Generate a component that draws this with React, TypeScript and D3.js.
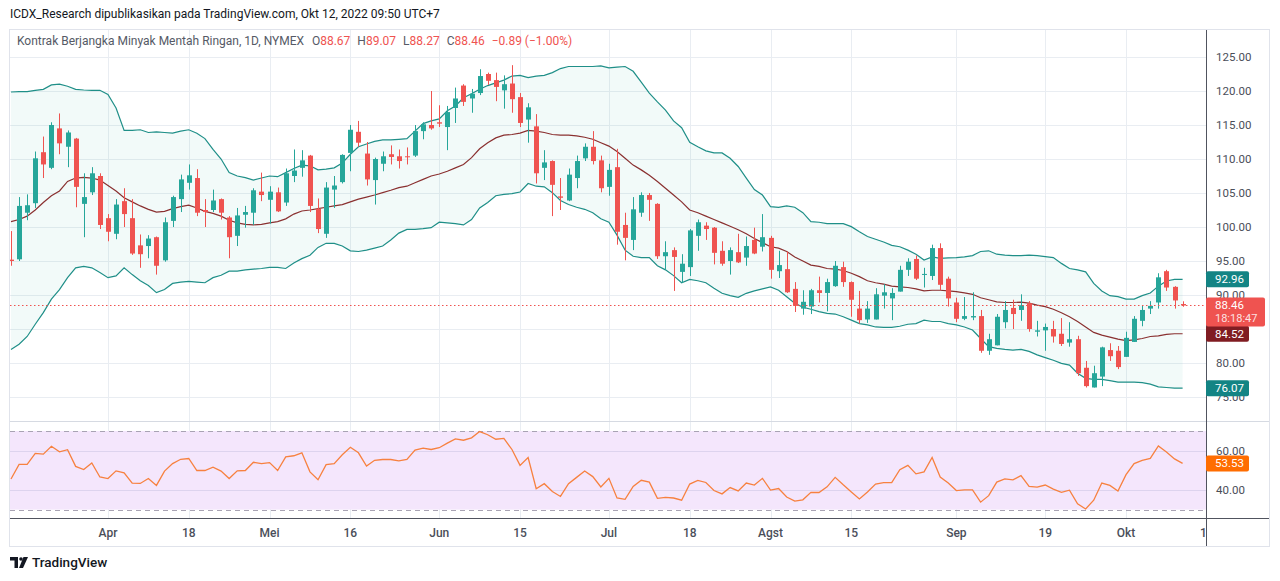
import React, { useRef, useEffect } from 'react'
import * as d3 from 'd3'

// daily candles, Mar 16 - Oct 12 2022
const opens = [
  95.2, 95.25, 102.1, 103.5, 111.0, 108.7, 114.5, 111.8, 113.0, 103.4,
  105.1, 107.5, 101.3, 99.0, 103.8, 101.3, 97.3, 97.2, 98.5, 95.1,
  100.9, 104.1, 106.5, 107.2, 102.5, 102.5, 104.1, 101.4, 98.7, 101.8,
  102.1, 105.2, 104.0, 105.1, 103.6, 107.5, 108.7, 110.5, 102.7, 99.0,
  105.5, 106.6, 110.9, 114.0, 110.8, 106.9, 109.3, 110.7, 110.4, 110.4,
  110.5, 114.1, 115.0, 115.4, 114.7, 117.5, 120.8, 118.9, 119.7, 122.5,
  121.6, 120.1, 121.1, 119.1, 115.8, 114.8, 108.7, 109.7, 104.5, 103.9,
  107.2, 110.1, 111.8, 109.8, 105.9, 108.8, 100.3, 98.1, 102.1, 104.7,
  103.4, 95.7, 96.6, 93.4, 94.1, 98.7, 100.2, 99.9, 96.5, 95.0,
  96.3, 95.5, 98.1, 97.1, 98.4, 93.5, 93.8, 90.9, 88.0, 88.3,
  90.7, 90.3, 91.3, 94.1, 91.9, 88.0, 86.4, 86.4, 89.9, 89.5,
  90.5, 93.7, 95.3, 93.0, 92.8, 96.9, 92.4, 88.9, 86.5, 86.7,
  86.9, 81.8, 82.6, 86.0, 88.1, 87.8, 88.8, 84.6, 84.8, 85.0,
  84.3, 83.0, 83.5, 79.3, 76.4, 78.0, 81.9, 81.8, 80.9, 83.1,
  86.2, 88.0, 88.9, 93.5, 91.2, 88.67,
]
const highs = [
  99.4, 104.4, 104.8, 111.1, 113.3, 115.4, 116.7, 114.2, 113.1, 107.9,
  108.8, 107.9, 101.9, 104.1, 105.7, 104.1, 98.9, 98.8, 98.6, 101.4,
  104.6, 107.7, 109.2, 108.5, 104.1, 105.5, 104.2, 101.6, 102.8, 103.1,
  105.7, 108.0, 106.0, 105.8, 108.6, 111.4, 111.3, 110.6, 104.2, 106.6,
  107.5, 110.7, 115.0, 115.6, 112.5, 110.2, 111.1, 112.0, 111.4, 111.7,
  115.0, 115.4, 120.0, 117.9, 117.8, 120.5, 121.0, 120.3, 123.2, 122.7,
  122.7, 122.3, 123.8, 119.7, 118.2, 116.6, 111.3, 109.8, 107.2, 108.6,
  110.5, 112.3, 114.1, 110.5, 109.3, 111.5, 102.1, 104.4, 105.1, 105.0,
  103.5, 97.9, 97.0, 96.0, 99.7, 101.1, 100.7, 100.0, 97.9, 97.0,
  99.0, 98.6, 99.9, 101.9, 98.7, 96.5, 96.4, 91.9, 90.7, 90.9,
  92.7, 92.4, 95.0, 94.9, 92.0, 90.6, 89.1, 91.0, 91.6, 91.0,
  94.3, 95.4, 95.8, 94.0, 97.4, 97.6, 92.7, 89.6, 89.7, 90.4,
  87.8, 84.3, 87.2, 89.1, 89.3, 90.1, 89.1, 86.2, 85.8, 86.2,
  86.6, 86.0, 84.0, 80.3, 79.6, 82.4, 82.9, 82.5, 84.6, 86.9,
  88.4, 89.1, 93.2, 93.7, 91.3, 89.07,
]
const lows = [
  94.3, 95.0, 101.0, 102.8, 107.2, 108.5, 110.7, 108.8, 102.9, 98.5,
  104.7, 99.7, 97.9, 98.2, 100.0, 95.9, 94.0, 95.4, 93.0, 94.9,
  100.0, 102.2, 105.5, 101.6, 100.0, 102.2, 101.1, 95.4, 97.2, 99.9,
  100.3, 103.8, 100.5, 102.2, 103.1, 106.6, 107.4, 102.2, 99.1, 98.4,
  102.8, 106.4, 108.2, 111.8, 106.1, 103.3, 108.2, 109.2, 108.6, 109.2,
  110.3, 112.9, 114.3, 114.7, 111.3, 115.3, 117.8, 116.8, 119.4, 120.9,
  118.5, 117.4, 116.8, 114.7, 112.4, 106.4, 106.9, 101.6, 102.5, 103.8,
  105.7, 109.7, 109.2, 105.1, 104.6, 97.4, 95.1, 96.6, 101.5, 100.9,
  95.3, 93.7, 90.6, 91.8, 92.8, 96.5, 98.1, 94.5, 94.3, 93.0,
  94.7, 94.3, 96.0, 96.4, 92.4, 92.5, 90.3, 87.5, 87.1, 87.2,
  88.9, 87.6, 91.2, 91.2, 86.8, 85.8, 85.9, 86.4, 88.0, 86.3,
  90.5, 92.8, 92.2, 91.1, 92.2, 90.7, 88.3, 86.0, 86.3, 86.3,
  81.5, 81.2, 82.6, 85.1, 85.0, 86.2, 84.6, 83.9, 81.8, 83.0,
  82.5, 82.4, 78.1, 76.4, 76.4, 76.6, 80.3, 79.1, 80.9, 83.1,
  85.4, 87.2, 88.0, 90.6, 88.0, 88.27,
]
const closes = [
  95.0, 103.1, 103.2, 110.1, 109.2, 115.0, 112.3, 113.9, 105.9, 104.4,
  107.9, 100.3, 99.3, 103.3, 101.9, 96.1, 96.0, 98.3, 94.3, 100.7,
  104.4, 107.0, 107.6, 102.1, 102.2, 103.9, 102.1, 98.5, 101.7, 102.2,
  105.4, 104.7, 105.2, 102.3, 107.9, 108.3, 109.8, 103.1, 99.7, 105.8,
  106.1, 110.6, 114.3, 112.4, 107.0, 110.0, 110.4, 110.3, 109.7, 110.3,
  114.1, 115.1, 114.5, 115.2, 116.9, 118.9, 118.4, 119.6, 122.2, 121.5,
  120.6, 121.0, 118.8, 115.3, 117.6, 107.9, 109.5, 106.2, 104.3, 107.7,
  109.7, 111.8, 109.7, 105.7, 108.4, 99.3, 98.4, 102.6, 104.7, 104.0,
  95.7, 96.3, 95.6, 94.6, 99.5, 100.7, 99.7, 96.2, 94.6, 96.6,
  94.8, 97.2, 96.1, 98.5, 93.7, 94.4, 90.4, 88.4, 89.0, 90.7,
  90.3, 91.9, 94.3, 91.9, 89.3, 86.3, 88.0, 90.1, 90.4, 90.3,
  93.7, 94.9, 92.4, 93.1, 96.9, 91.5, 89.5, 86.5, 86.9, 86.9,
  81.8, 83.5, 86.8, 87.8, 87.2, 88.5, 85.0, 84.8, 85.3, 83.9,
  82.8, 83.5, 78.5, 76.6, 78.5, 82.3, 81.0, 79.4, 83.7, 86.5,
  87.8, 88.4, 92.6, 91.1, 89.2, 88.46,
]

// Bollinger bands (20, 2) as drawn
const bbUpper = [
  119.85, 119.9, 119.9, 120.1, 120.25, 120.9, 121.0, 120.7, 120.25, 120.15,
  120.1, 120.1, 119.5, 117.5, 114.2, 114.2, 114.3, 113.9, 114.0, 113.9,
  113.8, 114.1, 114.3, 113.8, 113.0, 111.4, 110.0, 108.0, 107.5, 107.25,
  106.9, 107.2, 107.5, 107.4, 108.0, 108.6, 109.1, 109.0, 108.4, 108.5,
  108.7, 109.4, 110.7, 111.8, 112.2, 112.6, 112.8, 112.8, 112.9, 113.0,
  114.1, 115.2, 115.6, 115.9, 117.1, 117.8, 119.0, 119.6, 120.25, 120.8,
  121.2, 121.6, 122.2, 122.3, 121.96, 122.2, 122.3, 122.7, 123.3, 123.6,
  123.6, 123.6, 123.6, 123.7, 123.4, 123.5, 123.6, 122.9, 121.3, 119.7,
  118.4, 117.2, 115.6, 114.6, 112.45, 111.8, 111.2, 110.9, 110.9, 110.1,
  108.9, 107.2, 105.5, 104.7, 103.0, 102.9, 103.1, 102.9, 102.1, 100.8,
  100.7, 100.5, 100.5, 100.5, 100.05, 99.3, 98.6, 98.2, 97.8, 97.3,
  97.1, 96.6, 96.0, 95.15, 95.6, 95.4, 95.45, 95.5, 95.6, 95.8,
  96.4, 96.5, 96.0, 95.85, 95.8, 95.8, 95.85, 95.8, 95.65, 95.5,
  94.65, 93.9, 93.7, 93.4, 91.7, 90.6, 89.9, 89.75, 89.4, 89.4,
  89.9, 90.3, 91.3, 92.06, 92.3, 92.3,
]
const bbBasis = [
  100.8, 101.1, 101.6, 102.5, 103.6, 104.6, 105.3, 106.7, 107.2, 107.3,
  107.2, 106.9, 106.1, 105.3, 104.3, 103.7, 103.1, 102.6, 102.2, 102.3,
  102.7, 103.0, 103.2, 102.8, 102.3, 102.0, 101.6, 101.0, 100.6, 100.4,
  100.3, 100.4, 100.6, 100.8, 101.2, 101.9, 102.35, 102.5, 102.7, 102.9,
  103.1, 103.3, 103.7, 104.1, 104.4, 104.7, 105.05, 105.4, 105.8, 106.0,
  106.5, 107.0, 107.5, 107.8, 108.2, 108.7, 109.2, 110.2, 111.5, 112.4,
  113.1, 113.5, 113.6, 113.8, 114.2, 114.1, 113.9, 113.6, 113.5, 113.5,
  113.4, 113.2, 112.9, 112.4, 111.9, 111.1, 110.1, 109.1, 108.4, 107.6,
  106.7, 105.7, 104.7, 103.7, 102.5, 102.1, 101.6, 101.1, 100.6, 100.1,
  99.6, 99.0, 98.3, 97.7, 97.1, 96.9, 96.4, 95.6, 95.0, 94.4,
  94.2, 93.9, 93.8, 93.6, 93.2, 92.7, 92.1, 91.8, 91.6, 91.3,
  91.2, 91.1, 90.9, 90.6, 90.7, 90.7, 90.6, 90.5, 90.3, 90.1,
  89.6, 89.3, 89.0, 88.9, 88.9, 88.95, 88.8, 88.5, 88.3, 87.9,
  87.4, 86.8, 86.1, 85.3, 84.5, 84.1, 83.8, 83.5, 83.3, 83.4,
  83.6, 83.9, 84.0, 84.2, 84.3, 84.3,
]
const bbLower = [
  82.0, 82.75, 83.9, 85.7, 87.4, 89.4, 90.8, 92.55, 94.0, 94.2,
  94.0, 93.3, 92.55, 92.8, 94.0, 93.0, 92.1, 91.4, 90.35, 90.8,
  91.7, 91.9, 92.0, 91.9, 91.8, 92.55, 92.9, 93.5, 93.5, 93.7,
  93.8, 93.9, 94.05, 94.05, 93.9, 94.7, 95.35, 95.85, 97.0, 97.6,
  97.6, 97.2, 96.5, 96.4, 96.6, 96.9, 97.2, 98.1, 99.1, 99.65,
  99.65, 99.75, 99.9, 100.7, 100.6, 100.5, 100.3, 101.1, 102.8, 103.6,
  104.6, 104.8, 104.9, 105.15, 106.4, 106.0, 105.9, 105.05, 103.9, 103.3,
  102.9, 102.6, 102.1, 101.2, 100.7, 98.8, 96.6, 95.7, 95.5, 95.5,
  94.3, 93.7, 92.85, 91.8, 92.3, 92.1, 91.8, 91.0, 90.25, 89.9,
  89.65, 90.25, 90.6, 90.9, 91.2, 90.7, 89.75, 88.8, 88.2, 87.9,
  87.55, 87.3, 87.2, 86.8, 86.3, 85.8, 85.6, 85.3, 85.25, 85.25,
  85.4, 85.7, 85.8, 86.3, 86.1, 86.1, 85.8, 85.6, 85.3, 84.85,
  83.6, 82.4, 82.15, 82.0, 81.9, 82.0, 81.7, 81.2, 80.8, 80.4,
  79.95, 79.7, 78.5, 77.75, 77.6, 77.6, 77.4, 77.2, 77.2, 77.2,
  77.1, 76.9, 76.5, 76.4, 76.3, 76.3,
]

// RSI (14) as drawn
const rsi = [
  45.6, 53.0, 53.0, 58.6, 58.2, 62.2, 59.4, 60.5, 52.0, 50.4,
  53.7, 46.6, 45.8, 49.7, 48.7, 43.5, 43.3, 45.8, 42.3, 49.6,
  53.4, 55.6, 56.0, 49.9, 49.9, 51.6, 49.6, 45.8, 49.7, 49.9,
  54.1, 53.4, 53.9, 49.9, 56.8, 57.4, 58.9, 49.2, 45.2, 52.9,
  53.4, 57.9, 61.7, 58.9, 52.2, 55.1, 55.5, 55.5, 54.8, 55.5,
  60.3, 61.3, 60.6, 61.5, 63.8, 66.0, 65.3, 66.5, 69.7, 68.1,
  65.8, 66.2, 60.6, 52.5, 56.5, 40.6, 43.2, 39.2, 36.7, 43.2,
  46.4, 49.6, 46.8, 41.5, 45.9, 35.9, 35.2, 41.8, 44.9, 44.0,
  35.7, 36.2, 35.9, 34.8, 43.0, 44.9, 43.8, 39.7, 38.0, 41.2,
  39.5, 43.5, 42.5, 45.9, 39.9, 40.7, 36.4, 34.3, 35.0, 38.8,
  38.7, 41.6, 46.4, 42.6, 39.0, 35.4, 39.0, 43.0, 43.7, 43.7,
  50.3, 52.5, 48.2, 49.2, 56.5, 46.6, 43.5, 39.7, 40.0, 40.0,
  33.8, 37.1, 44.0, 45.6, 45.1, 47.3, 41.8, 41.4, 42.5, 40.4,
  38.8, 39.9, 32.9, 30.3, 34.8, 43.5, 42.3, 39.5, 47.8, 53.4,
  55.1, 56.1, 62.4, 59.3, 55.8, 53.5,
]

const dateTicks = [
  { index: 12, label: 'Apr' },
  { index: 22, label: '18' },
  { index: 32, label: 'Mei' },
  { index: 42, label: '16' },
  { index: 53, label: 'Jun' },
  { index: 63, label: '15' },
  { index: 74, label: 'Jul' },
  { index: 84, label: '18' },
  { index: 94, label: 'Agst' },
  { index: 104, label: '15' },
  { index: 117, label: 'Sep' },
  { index: 128, label: '19' },
  { index: 138, label: 'Okt' },
  { index: 148, label: '17' },
]
const priceTicks = [125, 120, 115, 110, 105, 100, 95, 90, 85, 80, 75]
const rsiTicks = [60, 40]
const rsiBands = [70, 30]

const title =
  'ICDX_Research dipublikasikan pada TradingView.com, Okt 12, 2022 09:50 UTC+7'
const symbolName = 'Kontrak Berjangka Minyak Mentah Ringan, 1D, NYMEX'
const ohlcLegend = [
  { key: 'O', value: '88.67' },
  { key: 'H', value: '89.07' },
  { key: 'L', value: '88.27' },
  { key: 'C', value: '88.46' },
]
const changeText = '\u22120.89 (\u22121.00%)'
const countdown = '18:18:47'
const lastLabels = { upper: '92.96', basis: '84.52', lower: '76.07', close: '88.46', rsi: '53.53' }

const UP = '#26a69a'
const DOWN = '#ef5350'
const FONT = 'Roboto, "Noto Sans", sans-serif'

const CandleChart: React.FC<{ width: number; height: number }> = ({ width, height }) => {
  const ref = useRef<SVGSVGElement>(null)

  useEffect(() => {
    const svg = d3.select(ref.current)
    svg.selectAll('*').remove()

    const left = 10
    const right = 1206
    const frameRight = 1269
    const paneTop = 30
    const paneBottom = 421
    const rsiBottom = 518
    const axisBottom = 546

    const x = d3.scaleLinear().domain([0, 148]).range([11, 11 + 8.08 * 148])
    const y = d3.scaleLinear().domain([75, 125]).range([397, 57])
    const yr = d3.scaleLinear().domain([30, 70]).range([509.6, 431])
    const n = closes.length
    const idx = d3.range(n)

    svg.append('rect').attr('width', width).attr('height', height).attr('fill', '#ffffff')

    const defs = svg.append('defs')
    defs.append('clipPath').attr('id', 'pane').append('rect')
      .attr('x', left).attr('y', paneTop).attr('width', right - left).attr('height', paneBottom - paneTop)
    defs.append('clipPath').attr('id', 'rsipane').append('rect')
      .attr('x', left).attr('y', paneBottom).attr('width', right - left).attr('height', rsiBottom - paneBottom)
    defs.append('clipPath').attr('id', 'timeaxis').append('rect')
      .attr('x', left).attr('y', rsiBottom).attr('width', right - left).attr('height', axisBottom - rsiBottom)

    // grid
    const grid = svg.append('g').attr('stroke', '#e9edf2').attr('stroke-width', 1)
    grid.selectAll('line.v')
      .data(dateTicks.filter((d) => x(d.index) < right))
      .enter().append('line')
      .attr('x1', (d) => Math.round(x(d.index)) + 0.5).attr('x2', (d) => Math.round(x(d.index)) + 0.5)
      .attr('y1', paneTop).attr('y2', rsiBottom)
    grid.selectAll('line.h')
      .data(priceTicks)
      .enter().append('line')
      .attr('x1', left).attr('x2', right)
      .attr('y1', (d) => Math.round(y(d)) + 0.5).attr('y2', (d) => Math.round(y(d)) + 0.5)

    // RSI pane
    const rp = svg.append('g').attr('clip-path', 'url(#rsipane)')
    rp.append('rect')
      .attr('x', left).attr('width', right - left)
      .attr('y', yr(70)).attr('height', yr(30) - yr(70))
      .attr('fill', '#f4e6fc')
    rp.selectAll('line.rg')
      .data(rsiTicks)
      .enter().append('line')
      .attr('x1', left).attr('x2', right)
      .attr('y1', (d) => Math.round(yr(d)) + 0.5).attr('y2', (d) => Math.round(yr(d)) + 0.5)
      .attr('stroke', '#ddd3ee')
    rp.selectAll('line.rb')
      .data(rsiBands)
      .enter().append('line')
      .attr('x1', left).attr('x2', right)
      .attr('y1', (d) => Math.round(yr(d)) + 0.5).attr('y2', (d) => Math.round(yr(d)) + 0.5)
      .attr('stroke', '#a8a3b3').attr('stroke-dasharray', '5,4')
    rp.append('path')
      .datum(idx)
      .attr('fill', 'none').attr('stroke', '#f7813f').attr('stroke-width', 1.3)
      .attr('d', d3.line<number>().x((i) => x(i)).y((i) => yr(rsi[i])))

    // price pane
    const pp = svg.append('g').attr('clip-path', 'url(#pane)')
    pp.append('path')
      .datum(idx)
      .attr('fill', '#26a69a').attr('fill-opacity', 0.06)
      .attr('d', d3.area<number>().x((i) => x(i)).y0((i) => y(bbLower[i])).y1((i) => y(bbUpper[i])))
    const bandLine = d3.line<number>().x((i) => x(i))
    pp.append('path').datum(idx).attr('fill', 'none').attr('stroke', '#1f8f88').attr('stroke-width', 1.2)
      .attr('d', bandLine.y((i) => y(bbUpper[i])))
    pp.append('path').datum(idx).attr('fill', 'none').attr('stroke', '#1f8f88').attr('stroke-width', 1.2)
      .attr('d', bandLine.y((i) => y(bbLower[i])))
    pp.append('path').datum(idx).attr('fill', 'none').attr('stroke', '#8a3030').attr('stroke-width', 1.2)
      .attr('d', bandLine.y((i) => y(bbBasis[i])))

    const color = (i: number) => (closes[i] >= opens[i] ? UP : DOWN)
    pp.selectAll('line.wick')
      .data(idx)
      .enter().append('line')
      .attr('x1', (i) => Math.round(x(i)) + 0.5).attr('x2', (i) => Math.round(x(i)) + 0.5)
      .attr('y1', (i) => y(highs[i])).attr('y2', (i) => y(lows[i]))
      .attr('stroke', color).attr('stroke-width', 1)
    pp.selectAll('rect.body')
      .data(idx)
      .enter().append('rect')
      .attr('x', (i) => Math.round(x(i)) - 2)
      .attr('width', 5)
      .attr('y', (i) => y(Math.max(opens[i], closes[i])))
      .attr('height', (i) => Math.max(1, Math.abs(y(opens[i]) - y(closes[i]))))
      .attr('fill', color)

    // last price line
    pp.append('line')
      .attr('x1', left).attr('x2', right)
      .attr('y1', Math.round(y(closes[n - 1])) + 0.5).attr('y2', Math.round(y(closes[n - 1])) + 0.5)
      .attr('stroke', DOWN).attr('stroke-width', 1.2).attr('stroke-dasharray', '1.5,2.5')

    // borders
    svg.append('rect')
      .attr('x', left - 0.5).attr('y', paneTop - 0.5)
      .attr('width', frameRight - left + 1).attr('height', axisBottom - paneTop + 1)
      .attr('fill', 'none').attr('stroke', '#e0e3eb')
    svg.append('line').attr('x1', left).attr('x2', frameRight)
      .attr('y1', paneBottom + 0.5).attr('y2', paneBottom + 0.5).attr('stroke', '#d6dae2')
    svg.append('line').attr('x1', left).attr('x2', frameRight)
      .attr('y1', rsiBottom + 0.5).attr('y2', rsiBottom + 0.5).attr('stroke', '#50535e')
    svg.append('line').attr('x1', right + 0.5).attr('x2', right + 0.5)
      .attr('y1', paneTop).attr('y2', axisBottom).attr('stroke', '#50535e')

    // time axis
    svg.append('g').attr('clip-path', 'url(#timeaxis)')
      .selectAll('text')
      .data(dateTicks)
      .enter().append('text')
      .attr('x', (d) => x(d.index)).attr('y', 537)
      .attr('text-anchor', 'middle')
      .attr('font-family', FONT).attr('font-size', 12).attr('font-weight', 500)
      .attr('fill', '#4a4e59')
      .text((d) => d.label)

    // last-value tags (drawn over the price scale)
    const tagCenters = [y(bbUpper[n - 1]), y(bbBasis[n - 1]), y(bbLower[n - 1])]

    // price axis: labels fully hidden behind a tag are left out
    svg.selectAll('text.price')
      .data(priceTicks.filter((p) => tagCenters.every((c) => Math.abs(y(p) - c) > 6)))
      .enter().append('text')
      .attr('x', 1216).attr('y', (d) => y(d) + 4)
      .attr('font-family', FONT).attr('font-size', 11.5)
      .attr('fill', '#4a4e59')
      .text((d) => d.toFixed(2))
    svg.selectAll('text.rsiaxis')
      .data(rsiTicks)
      .enter().append('text')
      .attr('x', 1216).attr('y', (d) => yr(d) + 4)
      .attr('font-family', FONT).attr('font-size', 11.5)
      .attr('fill', '#4a4e59')
      .text((d) => d.toFixed(2))

    const tag = (value: number, text: string, fill: string) => {
      const g = svg.append('g')
      g.append('rect').attr('x', right).attr('y', value - 8).attr('width', 43).attr('height', 16)
        .attr('rx', 2).attr('fill', fill)
      g.append('text').attr('x', 1215).attr('y', value + 4)
        .attr('font-family', FONT).attr('font-size', 11.5).attr('fill', '#ffffff')
        .text(text)
    }
    tag(tagCenters[0], lastLabels.upper, '#138484')
    tag(tagCenters[1], lastLabels.basis, '#801c22')
    tag(tagCenters[2], lastLabels.lower, '#138484')
    tag(yr(rsi[n - 1]), lastLabels.rsi, '#ff6d00')

    const cy = y(closes[n - 1])
    const cl = svg.append('g')
    cl.append('rect').attr('x', right).attr('y', cy - 8).attr('width', 59).attr('height', 29)
      .attr('rx', 2).attr('fill', DOWN)
    cl.append('text').attr('x', 1215).attr('y', cy + 4)
      .attr('font-family', FONT).attr('font-size', 11.5).attr('fill', '#ffffff')
      .text(lastLabels.close)
    cl.append('text').attr('x', 1215).attr('y', cy + 17)
      .attr('font-family', FONT).attr('font-size', 11).attr('fill', '#ffffff').attr('fill-opacity', 0.85)
      .text(countdown)

    // header
    svg.append('text').attr('x', 10).attr('y', 18)
      .attr('font-family', FONT).attr('font-size', 12).attr('fill', '#131722')
      .text(title)
    const legend = svg.append('text').attr('x', 17).attr('y', 45)
      .attr('font-family', FONT).attr('font-size', 12).attr('fill', '#555a66')
    legend.append('tspan').text(symbolName)
    ohlcLegend.forEach((d, k) => {
      legend.append('tspan').attr('dx', k === 0 ? 8 : 7).text(d.key)
      legend.append('tspan').attr('fill', DOWN).text(d.value)
    })
    legend.append('tspan').attr('dx', 7).attr('fill', DOWN).text(changeText)

    // logo
    const logo = svg.append('g').attr('fill', '#131722')
    logo.append('path').attr('d', 'M10,557 H18 V568 H14.5 V560.5 H10 Z')
    logo.append('circle').attr('cx', 21).attr('cy', 559).attr('r', 1.8)
    logo.append('path').attr('d', 'M23.5,557 H28 L23,568 H19 Z')
    svg.append('text').attr('x', 32).attr('y', 567)
      .attr('font-family', FONT).attr('font-size', 13.5).attr('font-weight', 500).attr('fill', '#131722')
      .text('TradingView')
  }, [width, height])

  return <svg ref={ref} width={width} height={height} style={{ position: 'absolute', left: 0, top: 0 }} />
}

export default function App() {
  return <CandleChart width={1280} height={581} />
}
